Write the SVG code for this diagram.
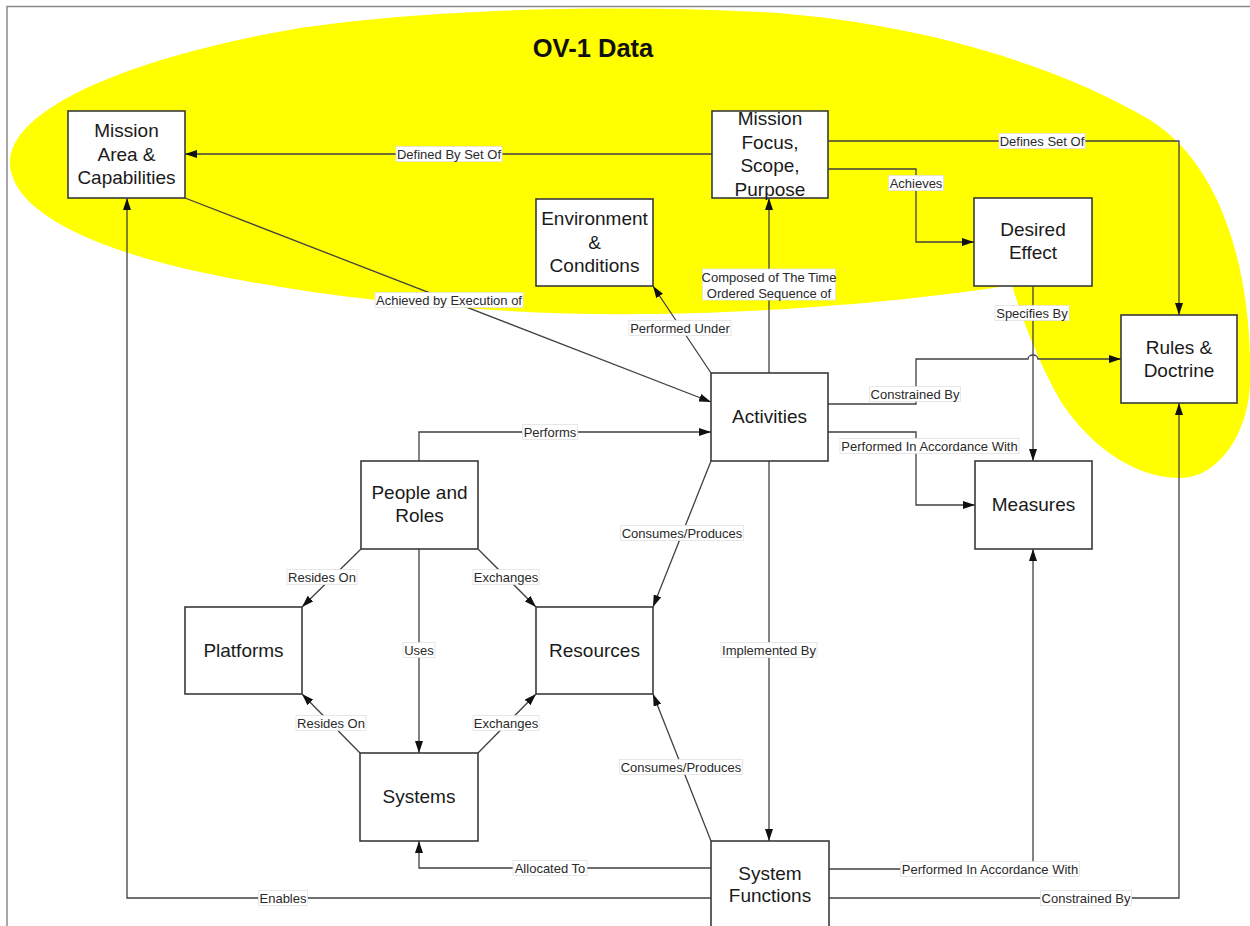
<svg xmlns="http://www.w3.org/2000/svg" width="1250" height="926" viewBox="0 0 1250 926">
  <style>
    .frame { fill: none; stroke: #8a8a8a; stroke-width: 1.5; }
    .region { fill: #ffff00; stroke: none; }
    .title { font-family: "Liberation Sans", Arial, sans-serif; font-size: 25.5px; font-weight: bold; fill: #111; text-anchor: middle; }
    .node rect { fill: #ffffff; stroke: #3a3a3a; stroke-width: 1.6; }
    .node text { font-family: "Liberation Sans", Arial, sans-serif; font-size: 19px; fill: #1a1a1a; text-anchor: middle; }
    .edge { fill: none; stroke: #404040; stroke-width: 1.3; }
    .arrow { marker-end: url(#arrowhead); }
    .lbl rect { fill: #ffffff; stroke: #e2e2e2; stroke-width: 0.8; }
    .lbl text { font-family: "Liberation Sans", Arial, sans-serif; font-size: 13px; fill: #2a2a2a; text-anchor: middle; }
  </style>
  <defs>
    <marker id="arrowhead" viewBox="0 0 12 8" refX="12" refY="4" markerWidth="12" markerHeight="8" markerUnits="userSpaceOnUse" orient="auto">
      <path d="M0,0 L12,4 L0,8 Z" fill="#111"/>
    </marker>
  </defs>

  <rect width="1250" height="926" fill="#ffffff"/>
  <!-- page frame (top and left edges visible) -->
  <path class="frame" d="M7,926 V6.5 H1250"/>

  <!-- OV-1 data region -->
  <path class="region" d="M10,160 C14,105 140,55 300,28 C420,10 600,4 760,12 C900,20 1050,60 1150,120 C1230,170 1252,290 1250,380 C1250,430 1220,478 1180,478 C1130,478 1085,440 1060,400 C1040,365 1022,320 1012,285 C930,298 800,312 650,314 C500,316 330,300 200,272 C90,248 8,210 10,160 Z"/>
  <text class="title" x="593" y="57">OV-1 Data</text>

  <g id="connectors">
    <path class="edge arrow" d="M712,154 H185"/>
    <path class="edge arrow" d="M828,141 H1179 V315"/>
    <path class="edge arrow" d="M828,169 H916 V242 H974"/>
    <path class="edge arrow" d="M185,198 L711,402"/>
    <path class="edge arrow" d="M711,373 L653,286"/>
    <path class="edge arrow" d="M769,373 V198"/>
    <path class="edge arrow" d="M1033,286 V461"/>
    <path class="edge arrow" d="M828,404 H916 V359 H1028 A5,4 0 0 1 1038,359 H1121"/>
    <path class="edge arrow" d="M828,432 H916 V505 H975"/>
    <path class="edge arrow" d="M419,461 V432 H711"/>
    <path class="edge arrow" d="M711,461 L653,607"/>
    <path class="edge arrow" d="M769,461 V841"/>
    <path class="edge arrow" d="M361,549 L302,607"/>
    <path class="edge arrow" d="M478,549 L536,607"/>
    <path class="edge arrow" d="M419,549 V753"/>
    <path class="edge arrow" d="M360,753 L302,694"/>
    <path class="edge arrow" d="M478,753 L536,694"/>
    <path class="edge arrow" d="M711,841 L653,694"/>
    <path class="edge arrow" d="M711,868 H419 V841"/>
    <path class="edge arrow" d="M711,898 H127 V198"/>
    <path class="edge arrow" d="M829,869 H1033 V549"/>
    <path class="edge arrow" d="M829,898 H1179 V403"/>

    <g class="lbl"><rect x="396" y="146.5" width="106" height="15"/><text x="449" y="158.5">Defined By Set Of</text></g>
    <g class="lbl"><rect x="999" y="133.5" width="86" height="15"/><text x="1042" y="145.5">Defines Set Of</text></g>
    <g class="lbl"><rect x="888.5" y="175.5" width="55" height="15"/><text x="916" y="187.5">Achieves</text></g>
    <g class="lbl"><rect x="375" y="292.5" width="148" height="15"/><text x="449" y="304.5">Achieved by Execution of</text></g>
    <g class="lbl"><rect x="629" y="320.5" width="102" height="15"/><text x="680" y="332.5">Performed Under</text></g>
    <g class="lbl"><rect x="702.5" y="269" width="133" height="31"/><text x="769" y="281.5">Composed of The Time</text><text x="769" y="297.5">Ordered Sequence of</text></g>
    <g class="lbl"><rect x="995" y="305.5" width="74" height="15"/><text x="1032" y="317.5">Specifies By</text></g>
    <g class="lbl"><rect x="869.5" y="386.5" width="91" height="15"/><text x="915" y="398.5">Constrained By</text></g>
    <g class="lbl"><rect x="840" y="438.5" width="179" height="15"/><text x="929.5" y="450.5">Performed In Accordance With</text></g>
    <g class="lbl"><rect x="522.5" y="424.5" width="55" height="15"/><text x="550" y="436.5">Performs</text></g>
    <g class="lbl"><rect x="620.5" y="525.5" width="123" height="15"/><text x="682" y="537.5">Consumes/Produces</text></g>
    <g class="lbl"><rect x="287" y="569.5" width="70" height="15"/><text x="322" y="581.5">Resides On</text></g>
    <g class="lbl"><rect x="473" y="569.5" width="66" height="15"/><text x="506" y="581.5">Exchanges</text></g>
    <g class="lbl"><rect x="403" y="642.5" width="32" height="15"/><text x="419" y="654.5">Uses</text></g>
    <g class="lbl"><rect x="721" y="642.5" width="96" height="15"/><text x="769" y="654.5">Implemented By</text></g>
    <g class="lbl"><rect x="296" y="715.5" width="70" height="15"/><text x="331" y="727.5">Resides On</text></g>
    <g class="lbl"><rect x="473" y="715.5" width="66" height="15"/><text x="506" y="727.5">Exchanges</text></g>
    <g class="lbl"><rect x="619.5" y="759.5" width="123" height="15"/><text x="681" y="771.5">Consumes/Produces</text></g>
    <g class="lbl"><rect x="513" y="860.5" width="74" height="15"/><text x="550" y="872.5">Allocated To</text></g>
    <g class="lbl"><rect x="258.5" y="890.5" width="49" height="15"/><text x="283" y="902.5">Enables</text></g>
    <g class="lbl"><rect x="900.5" y="861.5" width="179" height="15"/><text x="990" y="873.5">Performed In Accordance With</text></g>
    <g class="lbl"><rect x="1040.5" y="890.5" width="91" height="15"/><text x="1086" y="902.5">Constrained By</text></g>
  </g>

  <g id="mission-area" class="node">
    <rect x="68" y="111" width="117" height="87"/>
    <text x="126.5" y="137">Mission</text>
    <text x="126.5" y="160.5">Area &amp;</text>
    <text x="126.5" y="184">Capabilities</text>
  </g>
  <g id="mission-focus" class="node">
    <rect x="712" y="111" width="116" height="87"/>
    <text x="770" y="125">Mission</text>
    <text x="770" y="148.5">Focus,</text>
    <text x="770" y="172">Scope,</text>
    <text x="770" y="195.5">Purpose</text>
  </g>
  <g id="environment" class="node">
    <rect x="536" y="199" width="117" height="87"/>
    <text x="594.5" y="225">Environment</text>
    <text x="594.5" y="249">&amp;</text>
    <text x="594.5" y="272">Conditions</text>
  </g>
  <g id="desired-effect" class="node">
    <rect x="974" y="198" width="118" height="88"/>
    <text x="1033" y="236">Desired</text>
    <text x="1033" y="259">Effect</text>
  </g>
  <g id="rules-doctrine" class="node">
    <rect x="1121" y="315" width="116" height="88"/>
    <text x="1179" y="354">Rules &amp;</text>
    <text x="1179" y="377">Doctrine</text>
  </g>
  <g id="activities" class="node">
    <rect x="711" y="373" width="117" height="88"/>
    <text x="769.5" y="423">Activities</text>
  </g>
  <g id="measures" class="node">
    <rect x="975" y="461" width="117" height="88"/>
    <text x="1033.5" y="511">Measures</text>
  </g>
  <g id="people-roles" class="node">
    <rect x="361" y="461" width="117" height="88"/>
    <text x="419.5" y="499">People and</text>
    <text x="419.5" y="522">Roles</text>
  </g>
  <g id="platforms" class="node">
    <rect x="185" y="607" width="117" height="87"/>
    <text x="243.5" y="657">Platforms</text>
  </g>
  <g id="resources" class="node">
    <rect x="536" y="607" width="117" height="87"/>
    <text x="594.5" y="657">Resources</text>
  </g>
  <g id="systems" class="node">
    <rect x="360" y="753" width="118" height="88"/>
    <text x="419" y="803">Systems</text>
  </g>
  <g id="system-functions" class="node">
    <rect x="711" y="841" width="118" height="88"/>
    <text x="770" y="880">System</text>
    <text x="770" y="902">Functions</text>
  </g>
</svg>
